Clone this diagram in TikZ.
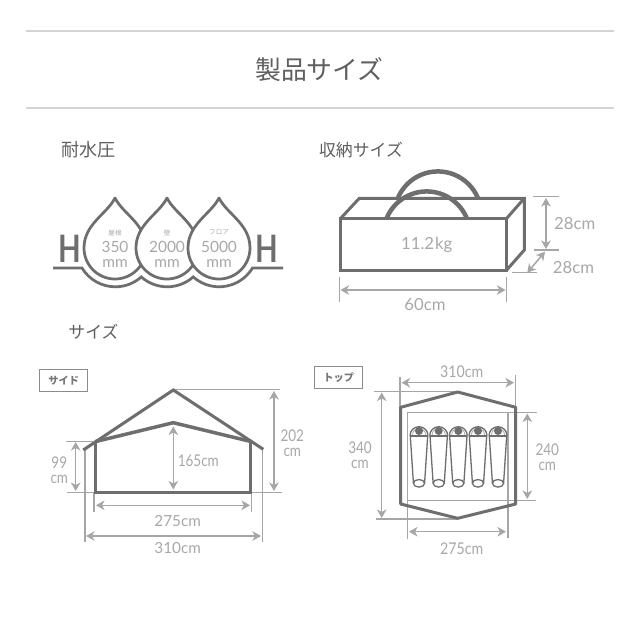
\documentclass[tikz,border=0pt]{standalone}
\usepackage{xcolor}
\usepackage{fontspec}
\usepackage{tikz}
\usetikzlibrary{arrows.meta}
\setmainfont{Lato}
\newfontfamily\jpfont{Noto Sans CJK JP}
\definecolor{inkline}{HTML}{6E6E6E}
\definecolor{dimline}{HTML}{A6A6A6}
\definecolor{dimtext}{HTML}{A8A8A8}
\definecolor{headtext}{HTML}{5F5F5F}
\definecolor{rulegray}{HTML}{D4D4D4}
\begin{document}
\begin{tikzpicture}[
    x=0.2mm, y=-0.2mm,
    outline/.style={draw=inkline, line width=0.6mm, line join=miter},
    extline/.style={draw=dimline, line width=0.26mm},
    dimarrow/.style={draw=dimline, line width=0.3mm,
                     {Stealth[length=1.7mm, width=1.9mm, inset=0.5mm]}-{Stealth[length=1.7mm, width=1.9mm, inset=0.5mm]}},
    dimlabel/.style={text=dimtext, inner sep=0pt, align=center, font=\fontsize{8.7}{8.4}\selectfont},
    baglabel/.style={dimlabel, font=\fontsize{9.5}{9.5}\selectfont},
    narrowlabel/.style={dimlabel, xscale=0.835, font=\fontsize{9.2}{8.4}\selectfont},
    heading/.style={text=headtext, inner sep=0pt, font=\jpfont\fontsize{9.6}{10}\selectfont},
    tagbox/.style={draw=inkline!80, line width=0.22mm, fill=white, minimum width=9.6mm,
                   minimum height=4.5mm, inner sep=0pt, text=headtext!85,
                   font=\jpfont\bfseries\fontsize{5.8}{6}\selectfont}
  ]
    \useasboundingbox (0,0) rectangle (640,640);
    \fill[white] (0,0) rectangle (640,640);

    % Title
    \draw[draw=rulegray, line width=0.22mm] (26,31) -- (614,31);
    \draw[draw=rulegray, line width=0.22mm] (26,108) -- (614,108);
    \node[text=headtext, inner sep=0pt, font=\jpfont\fontsize{14.7}{15}\selectfont] (title) at (319.5,70) {製品サイズ};
    \node[heading, font=\jpfont\fontsize{10.3}{10}\selectfont] (headwater) at (88.5,150) {耐水圧};
    \node[heading] (headpack) at (361,150) {収納サイズ};
    \node[heading] (headsize) at (93.5,332) {サイズ};

    % Water drops
    \foreach \cx/\part/\val/\name in {115/屋根/350/roof, 167/壁/2000/wall, 219/フロア/5000/floor} {
      \draw[outline, line width=0.55mm, fill=white, line join=round] (\cx,198) .. controls (\cx+8,214) and (\cx+31,224) .. (\cx+31,248)
        arc[start angle=0, end angle=180, radius=31]
        .. controls (\cx-31,224) and (\cx-8,214) .. (\cx,198) -- cycle;
      \node[text=dimtext, inner sep=0pt, font=\jpfont\fontsize{3.7}{4}\selectfont] (part\name) at (\cx,232.7) {\part};
      \node[dimlabel, font=\fontsize{8.8}{8.4}\selectfont] (val\name) at (\cx,254.5) {\val\\mm};
    }
    \draw[outline, line width=0.55mm] (53,268) -- (82,268) arc[start angle=148.8, end angle=48.3, radius=39]
      arc[start angle=131.7, end angle=48.3, radius=39]
      arc[start angle=131.7, end angle=31.2, radius=39] -- (283,268);
    \node[text=inkline, inner sep=0pt, xscale=0.78, font=\bfseries\fontsize{21.5}{22}\selectfont] (hleft) at (69.5,249) {H};
    \node[text=inkline, inner sep=0pt, xscale=0.78, font=\bfseries\fontsize{21.5}{22}\selectfont] (hright) at (266.5,249) {H};

    % Bag
    \draw[outline] (340.7,218.3) rectangle (506.7,270);
    \draw[outline] (340.7,218.3) -- (359.3,198.3) -- (524.3,198.3) -- (524.3,250) -- (506.7,270);
    \draw[outline] (524.3,198.3) -- (506.7,218.3);
    \draw[draw=inkline, line width=0.9mm] (397.9,198) arc[start angle=-157.2, end angle=-22.8, radius=43.4];
    \draw[draw=inkline, line width=0.9mm] (386.7,218) arc[start angle=-157.2, end angle=-22.8, radius=43.4];
    \node[baglabel] (weight) at (426.7,245) {11.2\hspace{0.5pt}kg};
    \draw[extline] (533,196.7) -- (559,196.7);
    \draw[extline] (534,250) -- (559,250);
    \draw[dimarrow] (546,198) -- (546,249);
    \node[baglabel] (bagh) at (574.7,224) {28cm};
    \draw[extline] (511.7,272.7) -- (536.7,272.7);
    \draw[dimarrow] (527.3,272.7) -- (545,251.7);
    \node[baglabel] (bagd) at (573.5,267.7) {28cm};
    \draw[extline] (339.3,276.7) -- (339.3,301.7);
    \draw[extline] (506.7,276.7) -- (506.7,301.7);
    \draw[dimarrow] (340.5,290) -- (505.5,290);
    \node[baglabel] (bagw) at (425,305) {60cm};

    % Side view
    \node[tagbox] (tagside) at (63.7,380.5) {サイド};
    \draw[extline] (173,389.3) -- (280,389.3);
    \draw[extline] (66.7,492.7) -- (281.7,492.7);
    \draw[extline] (66,441.3) -- (93,441.3);
    \draw[extline] (94,492) -- (94,512);
    \draw[extline] (251.7,492) -- (251.7,512);
    \draw[extline] (85,450) -- (85,541.7);
    \draw[extline] (262.3,450) -- (262.3,541.7);
    \draw[outline] (83.3,450) -- (173.3,390) -- (263.3,449.3);
    \draw[outline, line width=0.7mm] (95,441.7) -- (173.3,422.7) -- (251.7,441.7);
    \draw[outline] (95.7,441.7) -- (95.7,492) -- (250.7,492) -- (250.7,441.7);
    \draw[dimarrow] (274,391) -- (274,491);
    \node[narrowlabel] (sideh) at (292.3,443.5) {202\\cm};
    \draw[dimarrow] (75.7,442) -- (75.7,491);
    \node[narrowlabel] (sideeave) at (59.3,470) {99\\cm};
    \draw[dimarrow] (173.3,426.5) -- (173.3,489.5);
    \node[narrowlabel] (sidein) at (198.3,461) {165cm};
    \draw[dimarrow] (96,505.3) -- (250,505.3);
    \node[dimlabel] (sidefloor) at (177.7,520.7) {275cm};
    \draw[dimarrow] (86,536) -- (261,536);
    \node[dimlabel] (sidewidth) at (177.7,548) {310cm};

    % Top view
    \node[tagbox] (tagtop) at (338.7,377.5) {トップ};
    \draw[extline] (400,376.7) -- (400,407);
    \draw[extline] (515.7,375) -- (515.7,407);
    \draw[extline] (374,391.3) -- (457,391.3);
    \draw[extline] (376,519) -- (457,519);
    \draw[extline] (407.3,412.3) rectangle (508,500.3);
    \draw[extline] (508,412.3) -- (536.7,412.3);
    \draw[extline] (508,500.3) -- (535.7,500.3);
    \draw[extline] (407.3,500.3) -- (407.3,539);
    \draw[extline] (508,500.3) -- (508,538);
    \draw[outline, line join=round] (400.7,407.3) -- (457.7,392) -- (515.7,407.3) -- (515.7,504) -- (457.7,518.3) -- (400.7,504) -- cycle;

    % Sleeping bags
    \foreach \bx in {419, 438.7, 458.3, 478, 498} {
      \draw[draw=inkline, line width=0.26mm] (\bx-9,435.7) arc[start angle=180, end angle=360, radius=9];
      \draw[draw=inkline!55, line width=0.16mm] (\bx-6.6,435) arc[start angle=180, end angle=360, radius=6.6];
      \fill[inkline] (\bx,431) circle[radius=4];
      \draw[draw=inkline, line width=0.42mm] (\bx-9,435.7) -- (\bx+9,435.7);
      \draw[draw=inkline, line width=0.26mm] (\bx-8.7,435.7) -- (\bx-5.6,483);
      \draw[draw=inkline, line width=0.26mm] (\bx+8.7,435.7) -- (\bx+5.6,483);
      \draw[draw=inkline, line width=0.26mm, fill=white] (\bx,483.3) ellipse[x radius=5.6, y radius=3.8];
    }

    \draw[dimarrow] (401.5,382.7) -- (514,382.7);
    \node[narrowlabel, xscale=1.05] (topwidth) at (461.7,372) {310cm};
    \draw[dimarrow] (381.7,392.5) -- (381.7,518);
    \node[narrowlabel] (toplen) at (360,455) {340\\cm};
    \draw[dimarrow] (527.3,413.5) -- (527.3,499);
    \node[narrowlabel] (topin) at (547.3,457) {240\\cm};
    \draw[dimarrow] (409,531.7) -- (506,531.7);
    \node[narrowlabel, xscale=1.05] (topfloor) at (461.7,548.3) {275cm};
  \end{tikzpicture}
\end{document}
